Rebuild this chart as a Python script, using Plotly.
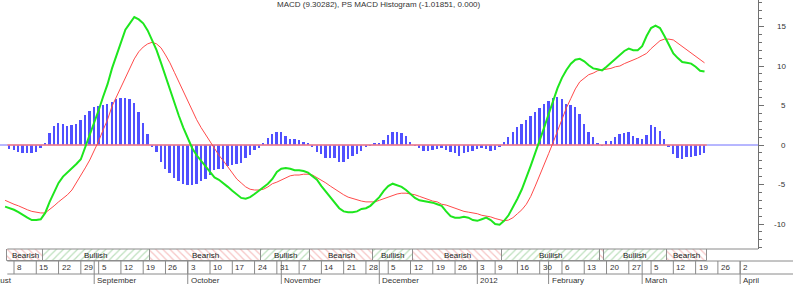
import plotly.graph_objects as go

# ---------------- data ----------------
days = list(range(-2, 156))  # trading-day index (0 = Aug 8 2011)

macd = [
    -7.8, -8.0, -8.2, -8.5, -8.9, -9.2, -9.5, -9.5, -9.4, -8.6,
    -7.2, -5.9, -4.8, -4.0, -3.5, -3.0, -2.4, -1.8, -0.3, 1.3,
    2.9, 4.4, 6.1, 7.7, 9.7, 11.4, 13.0, 14.6, 15.4, 16.2,
    15.9, 15.4, 14.5, 13.2, 12.0, 10.4, 8.7, 7.1, 5.4, 3.7,
    2.2, 0.8, -0.4, -1.3, -2.0, -2.8, -3.4, -4.1, -4.4, -4.8,
    -5.3, -5.8, -6.3, -6.7, -6.8, -6.6, -6.2, -5.8, -5.4, -4.9,
    -4.3, -3.4, -3.0, -2.9, -3.0, -3.2, -3.2, -3.3, -3.5, -3.9,
    -4.4, -5.2, -5.9, -6.7, -7.3, -8.0, -8.4, -8.5, -8.5, -8.4,
    -8.1, -8.0, -7.7, -7.2, -6.6, -5.8, -5.2, -4.9, -5.1, -5.3,
    -5.7, -6.2, -6.7, -7.0, -7.1, -7.2, -7.3, -7.5, -7.7, -8.4,
    -9.0, -9.2, -9.2, -9.1, -9.2, -9.5, -9.6, -9.4, -9.2, -9.5,
    -10.0, -10.1, -9.6, -8.9, -7.9, -6.8, -5.6, -4.2, -2.6, -1.0,
    0.5, 2.2, 3.9, 5.7, 7.2, 8.5, 9.5, 10.3, 10.8, 10.9,
    10.6, 10.1, 9.7, 9.6, 9.45, 9.9, 10.4, 11.0, 11.5, 11.9,
    12.2, 12.0, 12.0, 12.5, 13.8, 14.8, 15.1, 14.8, 13.8, 12.7,
    11.6, 11.0, 10.5, 10.4, 10.3, 9.9, 9.4, 9.3,
]

signal = [
    -7.0, -7.2, -7.5, -7.7, -8.0, -8.2, -8.4, -8.5, -8.6, -8.6,
    -8.2, -7.7, -7.2, -6.8, -6.3, -5.7, -4.8, -3.9, -2.9, -1.9,
    -0.8, 0.5, 1.9, 3.2, 4.9, 6.1, 7.3, 8.6, 9.9, 10.9,
    11.8, 12.4, 12.8, 13.0, 12.8, 12.3, 11.4, 10.4, 9.2, 8.0,
    6.7, 5.4, 4.3, 3.2, 2.2, 1.3, 0.4, -0.4, -1.3, -2.0,
    -2.8, -3.5, -4.3, -4.8, -5.3, -5.6, -5.7, -5.7, -5.6, -5.3,
    -4.9, -4.7, -4.4, -4.2, -3.9, -3.8, -3.8, -3.7, -3.7, -3.8,
    -4.1, -4.4, -4.8, -5.2, -5.6, -5.9, -6.3, -6.6, -6.8, -7.0,
    -7.1, -7.2, -7.2, -7.2, -7.0, -6.8, -6.6, -6.3, -6.2, -6.1,
    -6.1, -6.2, -6.3, -6.5, -6.7, -6.8, -7.1, -7.2, -7.5, -7.6,
    -7.8, -8.0, -8.2, -8.4, -8.5, -8.6, -8.7, -8.9, -9.0, -9.1,
    -9.3, -9.5, -9.6, -9.5, -9.2, -8.7, -8.2, -7.5, -6.5, -5.2,
    -3.9, -2.5, -1.1, 0.3, 1.8, 3.2, 4.7, 5.9, 7.1, 8.0,
    8.5, 8.9, 9.1, 9.4, 9.5, 9.6, 9.7, 9.9, 10.0, 10.3,
    10.5, 10.8, 11.0, 11.3, 11.6, 12.2, 12.7, 13.2, 13.4, 13.4,
    13.3, 12.9, 12.5, 12.0, 11.6, 11.3, 10.8, 10.4,
]

hist = [None,
    -0.55, -0.63, -0.84, -1.05, -1.05, -1.05, -0.84, -0.42, 0.3, 1.5,
    2.4, 2.75, 2.65, 2.4, 2.5, 2.65, 3.2, 3.8, 4.3, 4.8,
    5.0, 5.1, 5.2, 5.5, 5.8, 6.0, 6.0, 5.8, 5.3, 4.2,
    2.8, 1.4, -0.2, -0.9, -2.2, -3.0, -3.5, -4.2, -4.6, -4.9,
    -5.0, -5.0, -4.9, -4.6, -4.3, -3.8, -3.2, -3.1, -3.0, -2.7,
    -2.5, -2.4, -2.3, -1.65, -1.27, -0.63, -0.4, 0.2, 0.9, 1.4,
    1.7, 1.6, 1.15, 0.7, 0.7, 0.6, 0.4, 0.2, -0.3, -0.84,
    -1.15, -1.6, -1.6, -1.6, -2.1, -2.2, -1.8, -1.4, -1.15, -0.7,
    -0.3, -0.05, 0.2, 0.3, 0.6, 1.3, 1.7, 1.7, 1.5, 1.15,
    0.4, -0.05, -0.4, -0.75, -0.75, -0.6, -0.55, -0.4, -0.6, -0.85,
    -1.05, -1.4, -1.05, -0.85, -0.7, -0.55, -0.4, -0.55, -0.7, -0.6,
    -0.3, 0.4, 1.05, 1.6, 2.3, 2.7, 3.2, 3.7, 4.2, 4.7,
    5.2, 5.6, 6.0, 6.1, 5.8, 5.2, 5.06, 4.8, 3.9, 2.66,
    1.7, 0.97, 0.3, -0.05, 0.55, 0.55, 0.97, 1.4, 1.47, 1.7,
    1.14, 0.84, 0.72, 1.27, 2.5, 2.24, 1.8, 0.72, -0.3, -1.14,
    -1.7, -1.8, -1.56, -1.48, -1.4, -1.27, -1.02,
]

week_tick_days = [0, 5, 10, 15, 19, 24, 29, 34, 39, 44, 49, 54, 59, 64, 69, 74,
                  79, 84, 89, 94, 99, 104, 108, 113, 118, 123, 128, 133, 138,
                  143, 148, 153, 158, 163]
week_tick_labels = ["8", "15", "22", "29", "5", "12", "19", "26", "3", "10", "17",
                    "24", "31", "7", "14", "21", "28", "5", "12", "19", "26", "3",
                    "9", "16", "30", "6", "13", "20", "27", "5", "12", "19", "26", "2"]
month_days = [-7, 18, 39, 60, 82, 104, 120, 141, 163]
month_labels = ["August", "September", "October", "November", "December", "2012",
                "February", "March", "April"]

y_ticks = [-10, -5, 0, 5, 10, 15]
title_text = "MACD (9.30282), PS MACD Histogram (-1.01851, 0.000)"

# ---------------- geometry ----------------
W, H = 793, 296
PLOT_R = 758          # pixel of right axis
X0_PX = 14.0          # pixel of day 0
PX_PER_DAY = 4.455
ZERO_PX = 145.0
PX_PER_UNIT = 7.9
PLOT_B = 249
BAND_B = 261
DATE_B = 274

x_lo = -X0_PX / PX_PER_DAY
x_hi = (PLOT_R - X0_PX) / PX_PER_DAY
y_lo = (ZERO_PX - PLOT_B) / PX_PER_UNIT
y_hi = ZERO_PX / PX_PER_UNIT


def px_y(p):
    return 1 - p / H


def paper_x(d):
    return (d - x_lo) / (x_hi - x_lo)


FONT = "Liberation Sans, Arial, sans-serif"
TXT = "#333333"
GRID = "#8a8a8a"

fig = go.Figure()

# histogram
fig.add_trace(go.Bar(x=days, y=hist, width=0.42, marker=dict(color="rgb(80,80,255)", line=dict(width=0)),
                     yaxis="y", hoverinfo="skip"))

# bullish / bearish band derived from histogram sign
segments = []
for d, h in zip(days, hist):
    if h is None:
        continue
    bull = h > 0
    if segments and segments[-1][2] == bull and segments[-1][1] == d - 1:
        segments[-1][1] = d
    else:
        segments.append([d, d, bull])

for bull in (True, False):
    segs = [s for s in segments if s[2] == bull]
    fig.add_trace(go.Bar(
        x=[(s[0] + s[1]) / 2 for s in segs],
        y=[1] * len(segs), base=0,
        width=[s[1] - s[0] + 1 for s in segs],
        yaxis="y2", hoverinfo="skip",
        marker=dict(color="white", line=dict(color="#8f8f8f", width=1),
                    pattern=dict(shape="/" if bull else "\\",
                                 fgcolor="#7cc27c" if bull else "#ee8a8a",
                                 bgcolor="white", size=5, solidity=0.25)),
    ))

hist_days = [d for d, h in zip(days, hist) if h is not None]
band_start = hist_days[0] - 0.5
band_end = hist_days[-1] + 0.5

# red zero line over data span
fig.add_trace(go.Scatter(x=[band_start, band_end], y=[0, 0], mode="lines",
                         line=dict(color="#ff8080", width=1.6), hoverinfo="skip"))
# signal and MACD
fig.add_trace(go.Scatter(x=days, y=signal, mode="lines",
                         line=dict(color="#ff4a4a", width=1), hoverinfo="skip"))
fig.add_trace(go.Scatter(x=days, y=macd, mode="lines",
                         line=dict(color="#1ee61e", width=2), hoverinfo="skip"))

shapes = []
annotations = []

# blue full-width zero line
shapes.append(dict(type="line", xref="paper", yref="y", x0=0, x1=1, y0=0, y1=0,
                   line=dict(color="#6f6fff", width=1), layer="below"))
# plot bottom border & date row lines
shapes.append(dict(type="line", xref="paper", yref="paper", x0=paper_x(band_start), x1=1,
                   y0=px_y(PLOT_B), y1=px_y(PLOT_B), line=dict(color=GRID, width=1)))
for yy in (BAND_B, DATE_B):
    shapes.append(dict(type="line", xref="paper", yref="paper", x0=paper_x(band_start),
                       x1=W / PLOT_R, y0=px_y(yy), y1=px_y(yy), line=dict(color=GRID, width=1)))
for d, lab in zip(week_tick_days, week_tick_labels):
    shapes.append(dict(type="line", xref="x", yref="paper", x0=d, x1=d,
                       y0=px_y(BAND_B), y1=px_y(DATE_B), line=dict(color=GRID, width=1)))
    annotations.append(dict(xref="x", yref="paper", x=d, y=px_y((BAND_B + DATE_B) / 2),
                            xanchor="left", yanchor="middle", xshift=1, showarrow=False,
                            text=lab, font=dict(family=FONT, size=8, color=TXT)))
for d, lab in zip(month_days, month_labels):
    if x_lo <= d <= x_hi:
        shapes.append(dict(type="line", xref="x", yref="paper", x0=d, x1=d,
                           y0=px_y(BAND_B), y1=px_y(284), line=dict(color=GRID, width=1)))
    annotations.append(dict(xref="paper", yref="paper", x=paper_x(d), y=px_y(280),
                            xanchor="left", yanchor="middle", xshift=1, showarrow=False,
                            text=lab, font=dict(family=FONT, size=8, color=TXT)))

# band labels
for s0, s1, bull in segments:
    if s1 - s0 >= 4:
        annotations.append(dict(xref="x", yref="y2", x=(s0 + s1) / 2, y=0.5,
                                showarrow=False, text="Bullish" if bull else "Bearish",
                                font=dict(family=FONT, size=8, color="#222222")))

# y tick labels (right-aligned)
for v in y_ticks:
    annotations.append(dict(xref="paper", yref="y", x=1, y=v, xanchor="right", xshift=30,
                            showarrow=False, text=str(v),
                            font=dict(family=FONT, size=8, color=TXT)))

# title
annotations.append(dict(xref="paper", yref="paper", x=0.5, y=1, xanchor="center",
                        yanchor="top", yshift=2, showarrow=False, text=title_text,
                        font=dict(family=FONT, size=8, color=TXT)))

fig.update_layout(
    width=W, height=H,
    margin=dict(l=0, r=W - PLOT_R, t=0, b=0, autoexpand=False),
    paper_bgcolor="white", plot_bgcolor="white",
    showlegend=False, barmode="overlay", bargap=0,
    xaxis=dict(range=[x_lo, x_hi], visible=False, domain=[0, 1]),
    yaxis=dict(domain=[px_y(PLOT_B), 1], range=[y_lo, y_hi], side="right", anchor="x",
               showline=True, linecolor="#707070", linewidth=1, ticks="outside",
               ticklen=5, tickcolor="#707070", tick0=0, dtick=5,
               showticklabels=False, showgrid=False, zeroline=False,
               minor=dict(dtick=1, ticks="outside", ticklen=3, tickcolor="#707070")),
    yaxis2=dict(domain=[px_y(BAND_B), px_y(PLOT_B)], range=[0, 1], visible=False, anchor="x"),
    shapes=shapes, annotations=annotations,
)

fig.write_html("out.html", config={"displayModeBar": False},
               post_script="document.body.style.margin='0';document.body.style.overflow='hidden';")
